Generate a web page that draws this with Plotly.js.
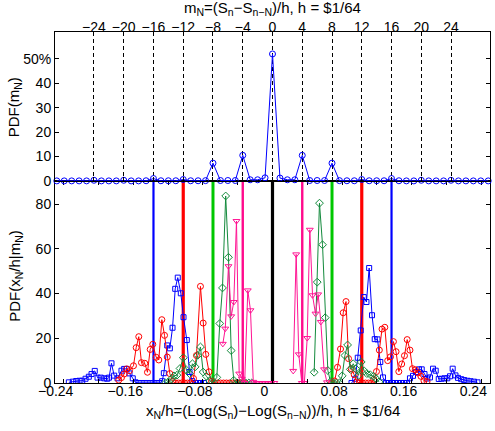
<!DOCTYPE html>
<html><head><meta charset="utf-8">
<script src="https://cdn.plot.ly/plotly-3.0.1.min.js"></script>
<style>html,body{margin:0;padding:0;background:#fff}#chart{width:495px;height:431px}</style>
</head><body><div id="chart"></div>
<script>
// ---- top panel: PDF(m_N), in percent
const mTop = [-29,-28,-27,-26,-25,-24,-23,-22,-21,-20,-19,-18,-17,-16,-15,-14,-13,-12,-11,-10,-9,-8,-7,-6,-5,-4,-3,-2,-1,0,1,2,3,4,5,6,7,8,9,10,11,12,13,14,15,16,17,18,19,20,21,22,23,24,25,26,27,28,29];
const pdfTop = [0.05,0.05,0.05,0.05,0.05,0.3,0.05,0.05,0.05,0.3,0.05,0.05,0.1,1.0,0.1,0.1,0.1,0.6,0.1,0.1,0.15,7.3,0.2,0.2,0.2,10.5,0.5,0.5,1.3,52.0,1.2,0.5,0.5,10.5,0.2,0.2,0.2,7.3,0.15,0.1,0.1,0.6,0.1,0.1,0.1,1.0,0.1,0.05,0.05,0.3,0.05,0.05,0.05,0.3,0.05,0.05,0.05,0.05,0.05];
const topTicks = [-24,-20,-16,-12,-8,-4,0,4,8,12,16,20,24];
const topYTicks = [0,10,20,30,40,50];
const topYTickText = ['0','10','20','30','40','50%'];

// ---- bottom panel: conditional PDFs
const blueNegX = [-0.2341,-0.2295,-0.2256,-0.2218,-0.2187,-0.2149,-0.2111,-0.2080,-0.2043,-0.2011,-0.1974,-0.1934,-0.1900,-0.1879,-0.1851,-0.1820,-0.1782,-0.1736,-0.1705,-0.1675,-0.1644,-0.1606,-0.1575,-0.1540,-0.1506,-0.1471,-0.1437,-0.1402,-0.1368,-0.1333,-0.1299,-0.1268,-0.1249,-0.1210,-0.1180,-0.1149,-0.1118,-0.1089,-0.1054,-0.1023,-0.0985,-0.0954,-0.0923,-0.0891,-0.0856,-0.0822,-0.0787];
const blueNegY = [0.3,0.6,0.9,1.0,1.0,1.9,2.8,4.0,5.4,2.4,2.4,2.1,1.9,2.4,8.8,3.3,2.1,5.5,6.3,6.3,4.3,2.1,0.3,0,0,0,0,0,0,0,0,0.8,4.4,16.8,15.5,24.7,42.1,47.1,40.1,29.4,19.2,4.9,0.9,0,0,0,0];
const redNegX = [-0.1767,-0.1736,-0.1705,-0.1675,-0.1644,-0.1598,-0.1567,-0.1537,-0.1506,-0.1468,-0.1437,-0.1406,-0.1376,-0.1337,-0.1307,-0.1272,-0.1241,-0.1210,-0.1180,-0.1149,-0.1115,-0.1080,-0.1046,-0.1011,-0.0977,-0.0943,-0.0908,-0.0874,-0.0828,-0.0797,-0.0767,-0.0730,-0.0701,-0.0667,-0.0632,-0.0598,-0.0563,-0.0529,-0.0494,-0.0460,-0.0425,-0.0391,-0.0356,-0.0322];
const redNegY = [1.3,2.4,4.0,6.3,5.5,7.7,15.8,20.7,9.1,8.8,4.8,15.0,17.3,11.5,10.3,28.3,21.3,11.6,4.2,0.8,0,0,0,0,0,0,2.0,12.3,43.2,26.8,12.8,5.0,0.8,0,0,0,0,0,0,0,0,0,0,0];
const greenNegX = [-0.1230,-0.1195,-0.1163,-0.1132,-0.1098,-0.1063,-0.1025,-0.0989,-0.0954,-0.0920,-0.0889,-0.0859,-0.0828,-0.0797,-0.0759,-0.0721,-0.0690,-0.0640,-0.0606,-0.0575,-0.0538,-0.0506,-0.0475,-0.0445,-0.0410,-0.0376,-0.0341,-0.0307,-0.0272,-0.0238];
const greenNegY = [0,0.5,1.8,3.2,3.5,6.5,11.3,5.8,4.2,8.6,7.2,12.4,16.1,4.9,3.0,1.0,0,2.5,26.6,42.5,83.6,56.2,14.5,1.2,0,0,0,0,0,0];
const pinkNegX = [-0.0571,-0.0543,-0.0506,-0.0475,-0.0445,-0.0414,-0.0383,-0.0353,-0.0320,-0.0284,-0.0253,-0.0221,-0.0186,-0.0152,-0.0117,-0.0083,-0.0048,-0.0014,0.0021];
const pinkNegY = [17.5,24.3,52.2,29.8,36.2,72.4,4.2,1.9,0,41.4,32.5,0.5,0,0,0,0,0,0,0];
const pinkPosX = [0.0238,0.0272,0.0302,0.0337,0.0366,0.0399,0.0429,0.0460,0.0494,0.0525,0.0555,0.0592,0.0626];
const pinkPosY = [5.4,57.5,12.8,0,0,20.1,68.5,39.2,31.0,39.6,27.3,6.1,0.3];
const greenPosX = [0.0479,0.0514,0.0540,0.0575,0.0606,0.0636,0.0667,0.0701,0.0736,0.0768,0.0801,0.0832,0.0863,0.0894,0.0928,0.0957,0.0989,0.1020,0.1054,0.1084,0.1123,0.1161,0.1192,0.1224];
const greenPosY = [4.8,45.1,80.4,61.8,29.2,5.6,0.6,0,0,0,3.2,12.3,17.0,6.1,8.6,6.4,3.4,9.4,5.4,4.2,3.7,3.0,1.9,0.5];
const redPosX = [0.0678,0.0713,0.0747,0.0782,0.0813,0.0845,0.0874,0.0905,0.0939,0.0971,0.1000,0.1034,0.1069,0.1103,0.1138,0.1164,0.1195,0.1228,0.1259,0.1291,0.1324,0.1356,0.1390,0.1420,0.1452,0.1485,0.1517,0.1548,0.1580,0.1609,0.1641,0.1675,0.1706,0.1741,0.1776];
const redPosY = [0,0.9,7.0,15.2,31.4,36.4,10.9,6.4,3.7,0.5,0,0,0,0,0,1.6,5.1,14.7,24.1,24.9,10.0,11.7,18.5,14.0,5.1,8.5,12.2,19.4,14.7,6.4,5.9,4.5,3.0,1.0,0.6];
const bluePosX = [0.0908,0.0951,0.0980,0.1014,0.1049,0.1080,0.1111,0.1144,0.1175,0.1207,0.1239,0.1270,0.1305,0.1339,0.1374,0.1408,0.1443,0.1477,0.1511,0.1546,0.1580,0.1615,0.1649,0.1684,0.1715,0.1747,0.1779,0.1810,0.1845,0.1876,0.1911,0.1943,0.1977,0.2009,0.2040,0.2071,0.2103,0.2132,0.2169,0.2203,0.2241,0.2276,0.2316,0.2356];
const bluePosY = [0,1.9,11.3,23.5,38.4,36.2,51.4,30.3,19.6,19.5,9.4,2.5,0,0,0,0,0,0,0,0,2.1,3.2,4.9,6.1,6.1,4.0,2.0,2.5,6.4,5.5,1.8,1.9,2.1,2.1,3.0,6.4,3.4,2.3,1.7,1.3,1.0,0.8,0.6,0.3];
// vertical reference lines at m_N = -16,-12,-8,-4,0,4,8,12,16
const vlineX = [-0.1368,-0.1026,-0.0684,-0.0342,0,0.0342,0.0684,0.1026,0.1368];
const vlineGroup = ['b','r','g','p','k','p','g','r','b'];

// ---- styles
const C = {b:'#0000ff', r:'#ff0000', g:'#138a3c', p:'#ff1493'};
const VL = {b:{c:'#0000ff',w:2.2}, r:{c:'#ff0000',w:3.2}, g:{c:'#00c800',w:3}, p:{c:'#ff0a8c',w:2.4}, k:{c:'#000000',w:3.2}};
const FF = '"Liberation Sans", Arial, Helvetica, sans-serif';

function series(x, y, g, sym, size){
  return {x:x, y:y, xaxis:'x', yaxis:'y', type:'scatter', mode:'lines+markers',
    line:{color:C[g], width:1},
    marker:{symbol:sym, size:size, color:C[g], line:{color:C[g], width:1}},
    hoverinfo:'skip'};
}
const traces = [
  series(blueNegX, blueNegY, 'b', 'square-open', 5),
  series(bluePosX, bluePosY, 'b', 'square-open', 5),
  series(redNegX, redNegY, 'r', 'circle-open', 6),
  series(redPosX, redPosY, 'r', 'circle-open', 6),
  series(greenNegX, greenNegY, 'g', 'diamond-open', 6),
  series(greenPosX, greenPosY, 'g', 'diamond-open', 6),
  series(pinkNegX, pinkNegY, 'p', 'triangle-down-open', 6),
  series(pinkPosX, pinkPosY, 'p', 'triangle-down-open', 6),
  {x:mTop, y:pdfTop, xaxis:'x2', yaxis:'y2', type:'scatter', mode:'lines+markers',
   line:{color:'#0000ff', width:1}, cliponaxis:false,
   marker:{symbol:'circle-open', size:6, color:'#0000ff', line:{color:'#0000ff', width:1}}, hoverinfo:'skip'}
];

const shapes = vlineX.map((v,i)=>({type:'line', xref:'x', yref:'y domain', x0:v, x1:v, y0:0, y1:1,
  layer:'below', line:{color:VL[vlineGroup[i]].c, width:VL[vlineGroup[i]].w}}));

const tf = {family:FF, size:14, color:'#000'};
const ax = {showline:true, linecolor:'#000', linewidth:1, mirror:'ticks', ticks:'inside', ticklen:4,
  tickcolor:'#000', tickwidth:1, zeroline:false, showgrid:false, tickfont:tf, fixedrange:true};

const tfont = {family:FF, size:15, color:'#000'};
const layout = {
  width:495, height:431, margin:{l:55, r:5, t:32, b:48},
  paper_bgcolor:'#fff', plot_bgcolor:'#fff', showlegend:false, font:{family:FF, color:'#000'},
  xaxis: Object.assign({}, ax, {anchor:'y', range:[-0.25,0.25], tickmode:'linear', tick0:0, dtick:0.08,
    minor:{tick0:0, dtick:0.04, ticks:'inside', ticklen:4, tickcolor:'#000'}, ticklabelshift:-8, ticklabelstandoff:-5}),
  yaxis: Object.assign({}, ax, {anchor:'x', domain:[0,0.5755], range:[0,90.3], tickmode:'array', tickvals:[0,20,40,60,80]}),
  xaxis2: Object.assign({}, ax, {anchor:'y2', side:'top', range:[-29.24,29.24], tickmode:'array', tickvals:topTicks,
    showgrid:true, gridcolor:'#000', gridwidth:1, griddash:'4px,3px', ticklabelstandoff:-7}),
  yaxis2: Object.assign({}, ax, {anchor:'x2', domain:[0.5755,1], range:[0,61], tickmode:'array', tickvals:topYTicks, ticktext:topYTickText}),
  shapes: shapes,
  annotations: [
    {text:'m<sub>N</sub>=(S<sub>n</sub>−S<sub>n−N</sub>)/h, h = $1/64', xref:'paper', yref:'paper', x:0.5, y:1.066,
     xanchor:'center', yanchor:'middle', showarrow:false, font:tfont},
    {text:'x<sub>N</sub>/h=(Log(S<sub>n</sub>)−Log(S<sub>n−N</sub>))/h, h = $1/64', xref:'paper', yref:'paper', x:0.5, y:-0.08,
     xanchor:'center', yanchor:'middle', showarrow:false, font:tfont},
    {text:'PDF(m<sub>N</sub>)', xref:'paper', yref:'paper', x:-0.094, y:0.786, textangle:-90,
     xanchor:'center', yanchor:'middle', showarrow:false, font:tfont},
    {text:'PDF(x<sub>N</sub>/h|m<sub>N</sub>)', xref:'paper', yref:'paper', x:-0.09, y:0.305, textangle:-90,
     xanchor:'center', yanchor:'middle', showarrow:false, font:tfont}
  ]
};
Plotly.newPlot('chart', traces, layout, {displayModeBar:false, staticPlot:true});
</script></body></html>
